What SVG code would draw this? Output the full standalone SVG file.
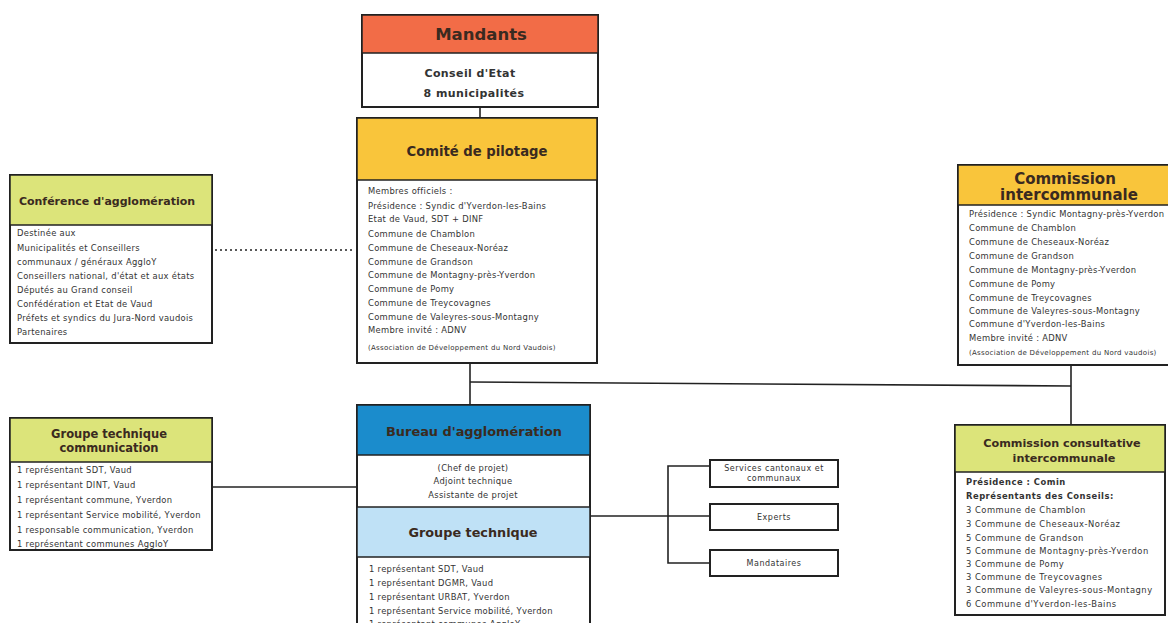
<svg xmlns="http://www.w3.org/2000/svg" width="1168" height="623" viewBox="0 0 1168 623">
<style>
.box{fill:#fff;stroke:#222;stroke-width:2}
.hd{stroke:#222;stroke-width:1.5}
.t{font-family:"DejaVu Sans",Verdana,sans-serif;fill:#333}
.b{font-size:8.4px;letter-spacing:0.3px}
.bc{font-size:8.4px;letter-spacing:0.3px;text-anchor:middle}
.sm{font-size:7px;letter-spacing:0.3px}
.cc{font-size:8.4px;letter-spacing:0.5px}
.sv{font-size:8px;letter-spacing:0.5px;text-anchor:middle}
.ttl{font-weight:bold;text-anchor:middle;fill:#3a2a20}
.ln{stroke:#222;stroke-width:1.6;fill:none}
</style>
<rect width="1168" height="623" fill="#fff"/>

<g id="connectors">
<line class="ln" x1="480" y1="107" x2="480" y2="118"/>
<line class="ln" x1="215" y1="250" x2="355" y2="250" stroke-dasharray="2,3"/>
<line class="ln" x1="470" y1="363" x2="470" y2="405"/>
<line class="ln" x1="470" y1="382" x2="1071" y2="386"/>
<line class="ln" x1="1071" y1="366" x2="1071" y2="425"/>
<line class="ln" x1="212" y1="487" x2="357" y2="487"/>
<line class="ln" x1="590" y1="516" x2="668" y2="516"/>
<polyline class="ln" points="710,466 668,466 668,563 710,563"/>
<line class="ln" x1="668" y1="516" x2="710" y2="516"/>
</g>

<g id="mandants">
<rect class="box" x="362" y="15" width="236" height="92"/>
<rect class="hd" x="362" y="15" width="236" height="38" fill="#F26C47"/>
<text class="t ttl" x="481" y="40" font-size="16.5" fill="#4a1a10">Mandants</text>
<text class="t" x="470" y="77" font-size="11" font-weight="bold" letter-spacing="0.4" text-anchor="middle">Conseil d'Etat</text>
<text class="t" x="474" y="97" font-size="11" font-weight="bold" letter-spacing="0.4" text-anchor="middle">8 municipalités</text>
</g>

<g id="comite">
<rect class="box" x="357" y="118" width="240" height="245"/>
<rect class="hd" x="357" y="118" width="240" height="62" fill="#F9C53B"/>
<text class="t ttl" x="477" y="156" font-size="13.2">Comité de pilotage</text>
<text class="t b" x="368" y="194">Membres officiels :</text>
<text class="t b" x="368" y="209">Présidence : Syndic d'Yverdon-les-Bains</text>
<text class="t b" x="368" y="222">Etat de Vaud, SDT + DINF</text>
<text class="t b" x="368" y="237">Commune de Chamblon</text>
<text class="t b" x="368" y="251">Commune de Cheseaux-Noréaz</text>
<text class="t b" x="368" y="265">Commune de Grandson</text>
<text class="t b" x="368" y="278">Commune de Montagny-près-Yverdon</text>
<text class="t b" x="368" y="292">Commune de Pomy</text>
<text class="t b" x="368" y="306">Commune de Treycovagnes</text>
<text class="t b" x="368" y="320">Commune de Valeyres-sous-Montagny</text>
<text class="t b" x="368" y="333">Membre invité : ADNV</text>
<text class="t sm" x="368" y="350">(Association de Développement du Nord Vaudois)</text>
</g>

<g id="conference">
<rect class="box" x="10" y="175" width="202" height="168"/>
<rect class="hd" x="10" y="175" width="202" height="50" fill="#DCE47A"/>
<text class="t ttl" x="107" y="205" font-size="11" fill="#2a2a20">Conférence d'agglomération</text>
<text class="t b" x="17" y="236">Destinée aux</text>
<text class="t b" x="17" y="251">Municipalités et Conseillers</text>
<text class="t b" x="17" y="265">communaux / généraux AggloY</text>
<text class="t b" x="17" y="279">Conseillers national, d'état et aux états</text>
<text class="t b" x="17" y="293">Députés au Grand conseil</text>
<text class="t b" x="17" y="307">Confédération et Etat de Vaud</text>
<text class="t b" x="17" y="321">Préfets et syndics du Jura-Nord vaudois</text>
<text class="t b" x="17" y="335">Partenaires</text>
</g>

<g id="commission-intercommunale">
<rect class="box" x="958" y="165" width="220" height="200"/>
<rect class="hd" x="958" y="165" width="220" height="40" fill="#F9C53B"/>
<text class="t ttl" x="1065" y="184" font-size="15">Commission</text>
<text class="t ttl" x="1069" y="200" font-size="15">intercommunale</text>
<text class="t b" x="969" y="217">Présidence : Syndic Montagny-près-Yverdon</text>
<text class="t b" x="969" y="231">Commune de Chamblon</text>
<text class="t b" x="969" y="245">Commune de Cheseaux-Noréaz</text>
<text class="t b" x="969" y="259">Commune de Grandson</text>
<text class="t b" x="969" y="273">Commune de Montagny-près-Yverdon</text>
<text class="t b" x="969" y="287">Commune de Pomy</text>
<text class="t b" x="969" y="301">Commune de Treycovagnes</text>
<text class="t b" x="969" y="314">Commune de Valeyres-sous-Montagny</text>
<text class="t b" x="969" y="327">Commune d'Yverdon-les-Bains</text>
<text class="t b" x="969" y="341">Membre invité : ADNV</text>
<text class="t sm" x="969" y="355">(Association de Développement du Nord vaudois)</text>
</g>

<g id="groupe-communication">
<rect class="box" x="10" y="418" width="202" height="132"/>
<rect class="hd" x="10" y="418" width="202" height="44" fill="#DCE47A"/>
<text class="t ttl" x="109" y="438" font-size="11.5" fill="#2a2a20">Groupe technique</text>
<text class="t ttl" x="109" y="452" font-size="11.5" fill="#2a2a20">communication</text>
<text class="t b" x="17" y="473">1 représentant SDT, Vaud</text>
<text class="t b" x="17" y="488">1 représentant DINT, Vaud</text>
<text class="t b" x="17" y="503">1 représentant commune, Yverdon</text>
<text class="t b" x="17" y="518">1 représentant Service mobilité, Yverdon</text>
<text class="t b" x="17" y="533">1 responsable communication, Yverdon</text>
<text class="t b" x="17" y="547">1 représentant communes AggloY</text>
</g>

<g id="bureau">
<rect class="box" x="357" y="405" width="233" height="230"/>
<rect class="hd" x="357" y="405" width="233" height="50" fill="#1B8CCC"/>
<text class="t ttl" x="474" y="436" font-size="12.9" fill="#17345f">Bureau d'agglomération</text>
<text class="t bc" x="473" y="471">(Chef de projet)</text>
<text class="t bc" x="473" y="484">Adjoint technique</text>
<text class="t bc" x="473" y="498">Assistante de projet</text>
</g>

<g id="groupe-technique">
<rect class="hd" x="357" y="507" width="233" height="50" fill="#BFE1F6"/>
<text class="t ttl" x="473" y="537" font-size="12.8" fill="#2a2a2a">Groupe technique</text>
<text class="t b" x="369" y="572">1 représentant SDT, Vaud</text>
<text class="t b" x="369" y="586">1 représentant DGMR, Vaud</text>
<text class="t b" x="369" y="600">1 représentant URBAT, Yverdon</text>
<text class="t b" x="369" y="614">1 représentant Service mobilité, Yverdon</text>
<text class="t b" x="369" y="627">1 représentant communes AggloY</text>
</g>

<g id="services">
<rect class="box" x="710" y="460" width="128" height="27" stroke-width="1.5"/>
<text class="t sv" x="774" y="471">Services cantonaux et</text>
<text class="t sv" x="774" y="481">communaux</text>
</g>
<g id="experts">
<rect class="box" x="710" y="504" width="128" height="26" stroke-width="1.5"/>
<text class="t sv" x="774" y="520">Experts</text>
</g>
<g id="mandataires">
<rect class="box" x="710" y="550" width="128" height="26" stroke-width="1.5"/>
<text class="t sv" x="774" y="566">Mandataires</text>
</g>

<g id="commission-consultative">
<rect class="box" x="955" y="425" width="210" height="190"/>
<rect class="hd" x="955" y="425" width="210" height="47" fill="#DCE47A"/>
<text class="t ttl" x="1062" y="447" font-size="11.2" fill="#2a2a20">Commission consultative</text>
<text class="t ttl" x="1064" y="462" font-size="11.2" fill="#2a2a20">intercommunale</text>
<text class="t cc" x="966" y="485" font-weight="bold">Présidence : Comin</text>
<text class="t cc" x="966" y="499" font-weight="bold">Représentants des Conseils:</text>
<text class="t cc" x="966" y="513">3 Commune de Chamblon</text>
<text class="t cc" x="966" y="527">3 Commune de Cheseaux-Noréaz</text>
<text class="t cc" x="966" y="541">5 Commune de Grandson</text>
<text class="t cc" x="966" y="554">5 Commune de Montagny-près-Yverdon</text>
<text class="t cc" x="966" y="567">3 Commune de Pomy</text>
<text class="t cc" x="966" y="580">3 Commune de Treycovagnes</text>
<text class="t cc" x="966" y="593">3 Commune de Valeyres-sous-Montagny</text>
<text class="t cc" x="966" y="607">6 Commune d'Yverdon-les-Bains</text>
</g>
</svg>
